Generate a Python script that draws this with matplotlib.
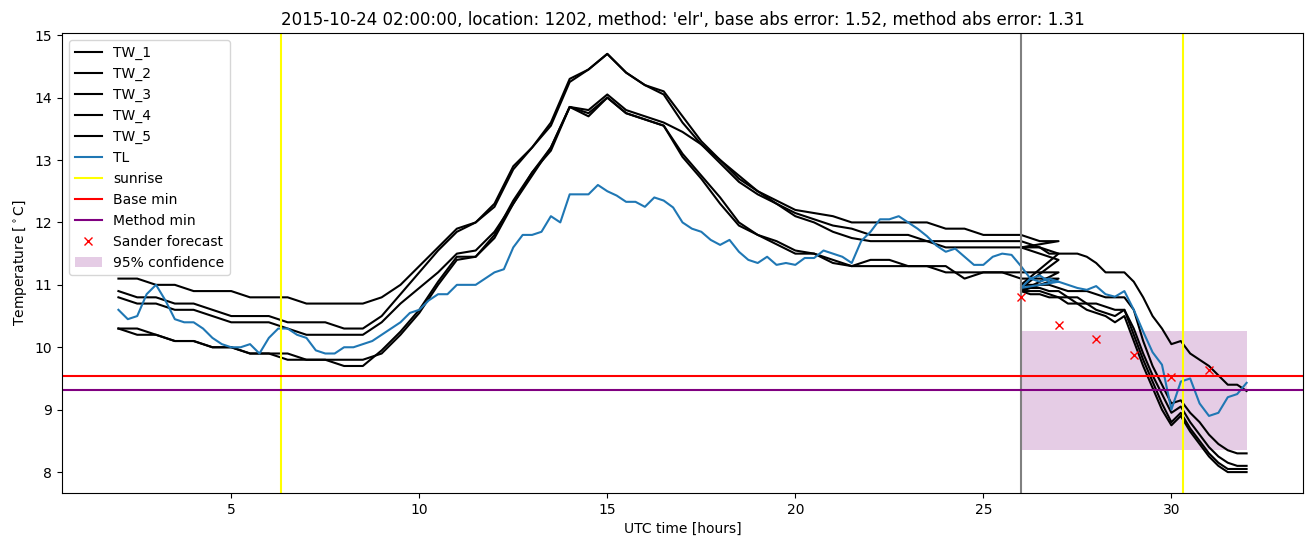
import numpy as np
import matplotlib
matplotlib.use("Agg")
import matplotlib.pyplot as plt

# ---------------- data ----------------
# history part (half-hourly, 2..27 h)
t_hist = [2.0 + 0.5 * i for i in range(51)]
tw1_hist = [11.1, 11.1, 11.0, 11.0, 10.9, 10.9, 10.9, 10.8, 10.8, 10.8, 10.7, 10.7, 10.7, 10.7,
            10.8, 11.0, 11.3, 11.6, 11.9, 12.0, 12.3, 12.9, 13.2, 13.6, 14.3, 14.45, 14.7, 14.4,
            14.2, 14.1, 13.7, 13.3, 13.0, 12.7, 12.5, 12.35, 12.2, 12.15, 12.1, 12.0, 12.0, 12.0,
            12.0, 12.0, 11.9, 11.9, 11.8, 11.8, 11.8, 11.7, 11.7]
tw2_hist = [10.9, 10.8, 10.8, 10.7, 10.7, 10.6, 10.5, 10.5, 10.5, 10.4, 10.4, 10.4, 10.3, 10.3,
            10.5, 10.85, 11.2, 11.55, 11.85, 12.0, 12.25, 12.85, 13.2, 13.55, 14.25, 14.45, 14.7, 14.4,
            14.2, 14.05, 13.6, 13.25, 12.95, 12.65, 12.45, 12.3, 12.15, 12.05, 11.95, 11.9, 11.8, 11.8,
            11.8, 11.7, 11.7, 11.7, 11.7, 11.7, 11.7, 11.6, 11.5]
tw3_hist = [10.8, 10.7, 10.7, 10.6, 10.6, 10.5, 10.4, 10.4, 10.4, 10.3, 10.2, 10.2, 10.2, 10.2,
            10.4, 10.7, 10.95, 11.2, 11.5, 11.55, 11.85, 12.3, 12.8, 13.2, 13.85, 13.8, 14.05, 13.8,
            13.7, 13.6, 13.45, 13.25, 13.0, 12.75, 12.5, 12.3, 12.1, 12.0, 11.85, 11.75, 11.7, 11.7,
            11.7, 11.7, 11.6, 11.6, 11.6, 11.6, 11.6, 11.5, 11.4]
tw4_hist = [10.3, 10.2, 10.2, 10.1, 10.1, 10.0, 10.0, 9.9, 9.9, 9.8, 9.8, 9.8, 9.7, 9.7,
            9.95, 10.25, 10.6, 11.05, 11.45, 11.45, 11.8, 12.35, 12.8, 13.15, 13.85, 13.75, 14.0, 13.75,
            13.65, 13.55, 13.1, 12.75, 12.4, 12.0, 11.8, 11.7, 11.55, 11.5, 11.4, 11.3, 11.3, 11.3,
            11.3, 11.3, 11.3, 11.1, 11.2, 11.2, 11.2, 11.2, 11.2]
tw5_hist = [10.3, 10.3, 10.2, 10.1, 10.1, 10.0, 10.0, 9.9, 9.9, 9.9, 9.8, 9.8, 9.8, 9.8,
            9.9, 10.2, 10.55, 11.0, 11.4, 11.45, 11.75, 12.3, 12.75, 13.2, 13.85, 13.7, 14.0, 13.75,
            13.65, 13.55, 13.05, 12.7, 12.3, 11.95, 11.8, 11.65, 11.5, 11.5, 11.35, 11.3, 11.4, 11.4,
            11.3, 11.3, 11.2, 11.2, 11.2, 11.2, 11.1, 11.1, 11.1]

# forecast part (quarter-hourly, 26..32 h)
t_fc = [26.0 + 0.25 * i for i in range(25)]
tw1_fc = [11.6, 11.6, 11.6, 11.5, 11.5, 11.5, 11.5, 11.45, 11.35, 11.2, 11.2, 11.2, 11.05,
          10.8, 10.5, 10.3, 10.05, 10.1, 9.9, 9.8, 9.7, 9.55, 9.4, 9.4, 9.3]
tw2_fc = [11.0, 11.0, 11.0, 11.0, 10.95, 10.9, 10.9, 10.9, 10.85, 10.8, 10.8, 10.8, 10.6,
          10.1, 9.7, 9.4, 9.1, 9.15, 8.95, 8.8, 8.6, 8.45, 8.35, 8.3, 8.3]
tw3_fc = [10.95, 10.95, 10.95, 10.9, 10.9, 10.8, 10.8, 10.7, 10.7, 10.65, 10.6, 10.6, 10.3,
          9.9, 9.55, 9.25, 8.95, 9.05, 8.8, 8.6, 8.4, 8.25, 8.15, 8.1, 8.1]
tw4_fc = [10.9, 10.9, 10.9, 10.85, 10.8, 10.8, 10.7, 10.7, 10.6, 10.55, 10.5, 10.6, 10.2,
          9.8, 9.45, 9.1, 8.8, 8.95, 8.7, 8.5, 8.3, 8.15, 8.05, 8.05, 8.05]
tw5_fc = [10.9, 10.85, 10.85, 10.8, 10.8, 10.7, 10.7, 10.6, 10.55, 10.5, 10.4, 10.5, 10.1,
          9.7, 9.35, 9.0, 8.75, 8.9, 8.65, 8.45, 8.25, 8.1, 8.0, 8.0, 8.0]

# TL (quarter-hourly)
t_tl_hist = [2.0 + 0.25 * i for i in range(101)]
tl_hist = [10.6, 10.45, 10.5, 10.85, 11.0, 10.75, 10.45, 10.4, 10.4, 10.3, 10.15, 10.05, 10.0,
           10.0, 10.05, 9.9, 10.15, 10.3, 10.3, 10.2, 10.15, 9.95, 9.9, 9.9, 10.0, 10.0, 10.05,
           10.1, 10.2, 10.3, 10.4, 10.55, 10.6, 10.75, 10.85, 10.85, 11.0, 11.0, 11.0, 11.1, 11.2,
           11.25, 11.6, 11.8, 11.8, 11.85, 12.1, 12.0, 12.45, 12.45, 12.45, 12.6, 12.5, 12.43,
           12.33, 12.33, 12.25, 12.4, 12.35, 12.24, 12.0, 11.9, 11.85, 11.72, 11.64, 11.72, 11.53,
           11.4, 11.35, 11.45, 11.32, 11.35, 11.32, 11.43, 11.43, 11.55, 11.5, 11.45, 11.35, 11.7,
           11.85, 12.05, 12.05, 12.1, 12.0, 11.9, 11.78, 11.63, 11.53, 11.58, 11.45, 11.32, 11.32,
           11.45, 11.5, 11.48, 11.3, 11.1, 11.05, 11.1, 11.05]
tl_fc = [10.95, 11.1, 11.15, 11.05, 11.05, 11.0, 10.95, 10.92, 10.98, 10.85, 10.81, 10.9, 10.6,
         10.25, 9.92, 9.72, 9.0, 9.45, 9.5, 9.1, 8.9, 8.95, 9.2, 9.25, 9.43]

sunrise = [6.33, 30.32]
forecast_start = 26.0
base_min = 9.535
method_min = 9.31
sander_t = [26, 27, 28, 29, 30, 31]
sander_v = [10.81, 10.36, 10.13, 9.87, 9.53, 9.64]
conf_t = [26.0, 32.0]
conf_low = 8.36
conf_high = 10.26

title = ("2015-10-24 02:00:00, location: 1202, method: 'elr', "
         "base abs error: 1.52, method abs error: 1.31")

# ---------------- plot ----------------
fig = plt.figure(figsize=(13.11, 5.47), dpi=100)
ax = fig.add_axes([0.0473, 0.0987, 0.9466, 0.841])

handles = []
tw_hist = [tw1_hist, tw2_hist, tw3_hist, tw4_hist, tw5_hist]
tw_fc = [tw1_fc, tw2_fc, tw3_fc, tw4_fc, tw5_fc]
for i, (h, f) in enumerate(zip(tw_hist, tw_fc)):
    x = list(t_hist) + list(t_fc)
    y = list(h) + list(f)
    ln, = ax.plot(x, y, color="black", lw=1.5, label=f"TW_{i + 1}")
    handles.append(ln)

ln, = ax.plot(list(t_tl_hist) + list(t_fc), list(tl_hist) + list(tl_fc),
              color="#1f77b4", lw=1.5, label="TL")
handles.append(ln)

for k, s in enumerate(sunrise):
    l = ax.axvline(s, color="yellow", lw=1.5, label="sunrise" if k == 0 else None)
    if k == 0:
        handles.append(l)
ax.axvline(forecast_start, color="grey", lw=1.5)

l = ax.axhline(base_min, color="red", lw=1.5, label="Base min")
handles.append(l)
l = ax.axhline(method_min, color="purple", lw=1.5, label="Method min")
handles.append(l)
l, = ax.plot(sander_t, sander_v, "x", color="red", ms=6, label="Sander forecast")
handles.append(l)
p = ax.fill_between(conf_t, [conf_low] * 2, [conf_high] * 2, color="purple",
                    alpha=0.2, lw=0, label="95% confidence")
handles.append(p)

ax.set_xlim(0.5, 33.5)
ax.set_ylim(7.665, 15.035)
ax.set_xticks([5, 10, 15, 20, 25, 30])
ax.set_yticks([8, 9, 10, 11, 12, 13, 14, 15])
ax.set_xlabel("UTC time [hours]")
ax.set_ylabel(r"Temperature [$^\circ$C]")
ax.set_title(title)
ax.legend(handles=handles, loc="upper left")

fig.savefig("out.png", dpi=100)
